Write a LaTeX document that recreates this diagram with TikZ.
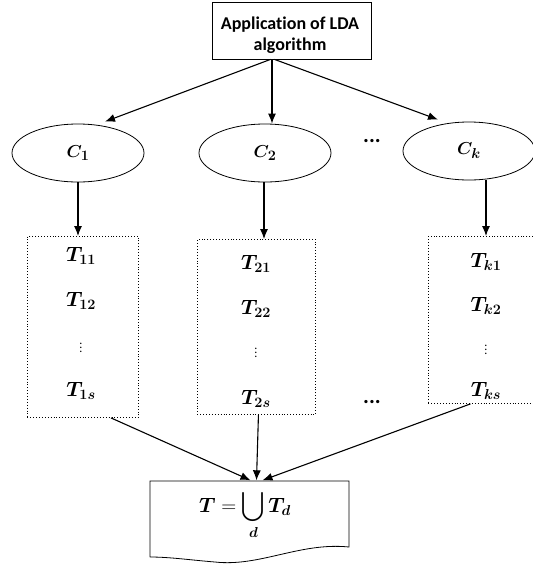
\documentclass[tikz,border=0pt]{standalone}
\usepackage{amsmath,bm}
\usepackage{fontspec}
\setmainfont[Ligatures=NoCommon]{Carlito}
\usetikzlibrary{arrows.meta,shapes.geometric}
\begin{document}
\begin{tikzpicture}[x=1pt,y=-1pt,
  arr/.style={-{Latex[length=10pt,width=8pt]},line width=1.1pt},
  topic/.style={ellipse,draw,line width=0.8pt,minimum width=132pt,minimum height=58pt,inner sep=0pt,
    font=\fontsize{19}{21}\selectfont},
  termbox/.style={draw,dotted,line width=0.9pt,anchor=north west,inner sep=0pt},
  term/.style={font=\fontsize{20}{22}\selectfont},
  vdot/.style={font=\fontsize{12}{12}\selectfont},
  dots/.style={font=\bfseries\fontsize{22}{22}\selectfont}]
\useasboundingbox (0,0) rectangle (533,566);
% algorithm box
\node[draw,line width=0.8pt,minimum width=159pt,minimum height=57pt] (lda) at (291.5,30.5) {};
\node[align=center,font=\bfseries\fontsize{18}{21}\selectfont] (ldatext) at (290,35) {Application of LDA\\algorithm};
% topic ellipses
\node[topic] (c1) at (78,153) {$\bm{C_1}$};
\node[topic] (c2) at (265,153) {$\bm{C_2}$};
\node[topic] (ck) at (469,151) {$\bm{C_k}$};
\node[dots] (d1) at (372,141) {...};
% dotted term boxes
\node[termbox,minimum width=111pt,minimum height=181pt] (b1) at (27,236) {};
\node[termbox,minimum width=118pt,minimum height=175pt] (b2) at (197,239) {};
\node[termbox,minimum width=108pt,minimum height=167pt] (bk) at (428,236) {};
\node[term] (t11) at (81,256) {$\bm{T_{11}}$};
\node[term] (t12) at (81,301) {$\bm{T_{12}}$};
\node[vdot] (t1v) at (81,345) {$\vdots$};
\node[term] (t1s) at (81,391) {$\bm{T_{1s}}$};
\node[term] (t21) at (256,264) {$\bm{T_{21}}$};
\node[term] (t22) at (256,309) {$\bm{T_{22}}$};
\node[vdot] (t2v) at (256,350) {$\vdots$};
\node[term] (t2s) at (256,399) {$\bm{T_{2s}}$};
\node[term] (tk1) at (486,262) {$\bm{T_{k1}}$};
\node[term] (tk2) at (486,306) {$\bm{T_{k2}}$};
\node[vdot] (tkv) at (486,347) {$\vdots$};
\node[term] (tks) at (486,391) {$\bm{T_{ks}}$};
\node[dots] (d2) at (372,402) {...};
% union document
\node[minimum width=199pt,minimum height=1pt,inner sep=0pt] (u) at (249.5,481) {};
\draw[line width=0.8pt] (150,557) -- (150,481) -- (349,481) -- (349,547)
  .. controls (300,542) and (260,567) .. (215,562)
  .. controls (190,560) and (170,557) .. (150,557);
\node[term] (ueq) at (245,515) {$\displaystyle\bm{T}=\bigcup_{\bm{d}}\bm{T_d}$};
% connectors
\draw[arr] ([xshift=-21pt]lda.south) -- ([xshift=27pt,yshift=2pt]c1.north);
\draw[arr] ([xshift=-19.5pt]lda.south) -- ([xshift=7pt]c2.north);
\draw[arr] ([xshift=-17pt]lda.south) -- ([xshift=-31pt,yshift=2pt]ck.north);
\draw[arr] (c1.south) -- (c1.south |- b1.north);
\draw[arr] ([xshift=-1pt]c2.south) -- ([xshift=-1pt]c2.south |- b2.north);
\draw[arr] ([xshift=17pt]ck.south) -- ([xshift=17pt]ck.south |- bk.north);
\draw[arr] ([xshift=28pt]b1.south) -- ([xshift=1pt]u.north);
\draw[arr] ([xshift=2pt]b2.south) -- ([xshift=7pt]u.north);
\draw[arr] ([xshift=-12pt]bk.south) -- ([xshift=13pt]u.north);
\end{tikzpicture}
\end{document}
